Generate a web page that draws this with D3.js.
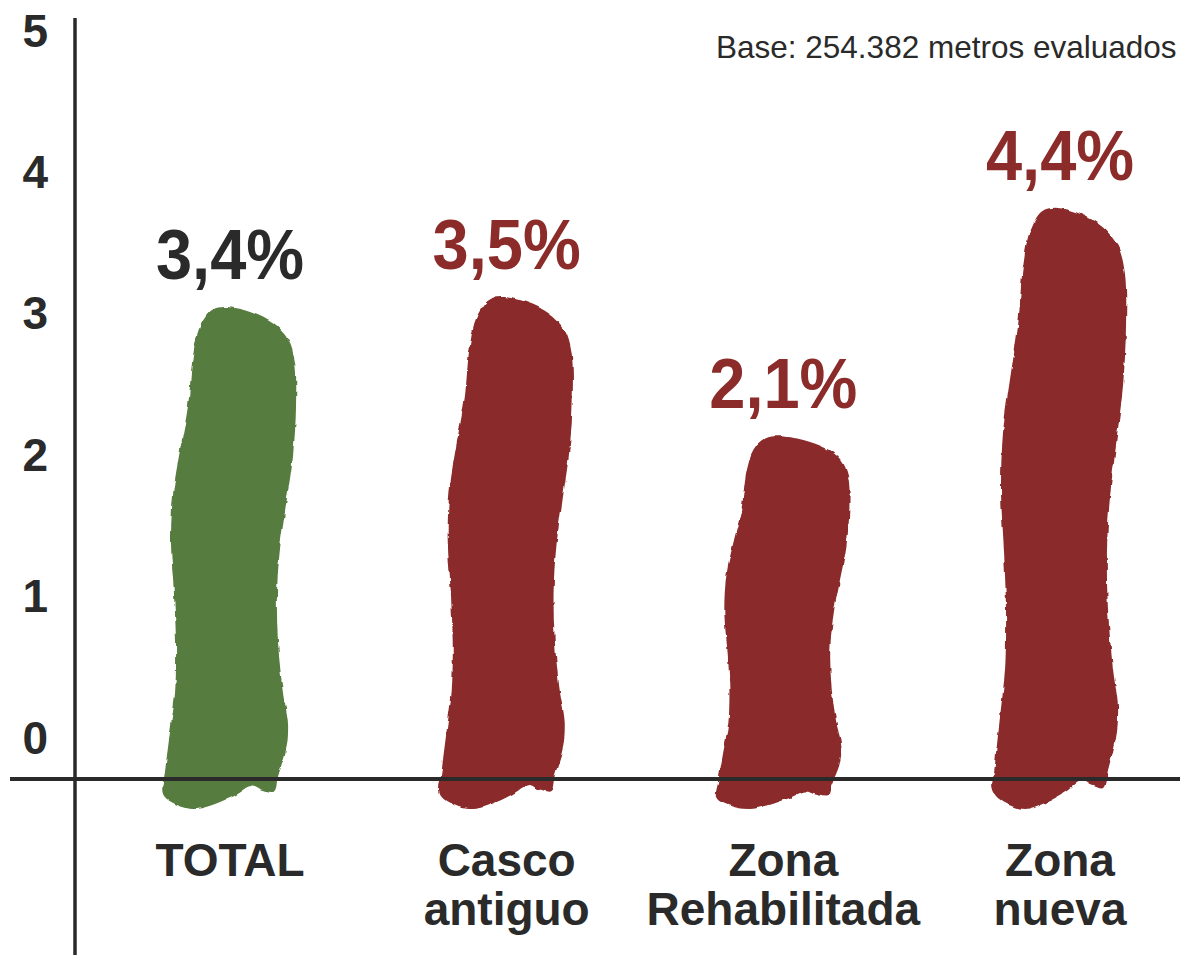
<html lang="es">
<head>
<meta charset="UTF-8">
<title>Base: 254.382 metros evaluados</title>
<style>
  body { margin: 0; background: #fff; }
  svg text { font-family: "Liberation Sans", Arial, Helvetica, sans-serif; }
</style>
</head>
<body>
<script src="https://cdn.jsdelivr.net/npm/d3@7"></script>
<script>
  // data
  let categories = ["TOTAL", "Casco antiguo", "Zona Rehabilitada", "Zona nueva"]
  let labelLines = [["TOTAL"], ["Casco", "antiguo"], ["Zona", "Rehabilitada"], ["Zona", "nueva"]]
  let values = [3.4, 3.5, 2.1, 4.4]
  let valueLabels = ["3,4%", "3,5%", "2,1%", "4,4%"]
  let yTicks = [0, 1, 2, 3, 4, 5]
  let note = "Base: 254.382 metros evaluados"

  let width = 1180
  let height = 955
  let baseY = 779
  let ink = "#2a2a2a"
  let green = "#567b3f"
  let red = "#8b2b2a"

  let svg = d3.select("body").append("svg")
              .attr("width", width)
              .attr("height", height)

  // rough brush edge
  let defs = svg.append("defs")
  let f = defs.append("filter").attr("id", "rough")
              .attr("x", "-10%").attr("y", "-10%").attr("width", "120%").attr("height", "120%")
  f.append("feTurbulence").attr("type", "fractalNoise").attr("baseFrequency", 0.09)
   .attr("numOctaves", 2).attr("seed", 4).attr("result", "n")
  f.append("feDisplacementMap").attr("in", "SourceGraphic").attr("in2", "n")
   .attr("scale", 4).attr("xChannelSelector", "R").attr("yChannelSelector", "G")

  let yAxisScale = d3.scaleLinear().domain([0, 5]).range([737, 30])
  let yBar = d3.scaleLinear().domain([0, 5]).range([645, 148])
  let x = d3.scalePoint().domain(categories).range([230, 1060])

  // brush stroke outline, u across the width, t from top (0) to bottom (1)
  let stroke = [
    [-0.133, 0.006], [-0.037, 0], [0.148, 0.01], [0.319, 0.033], [0.43, 0.065],
    [0.48, 0.108], [0.489, 0.197], [0.467, 0.295], [0.415, 0.394], [0.37, 0.482],
    [0.348, 0.571], [0.356, 0.669], [0.393, 0.768], [0.43, 0.831], [0.415, 0.882],
    [0.356, 0.935], [0.326, 0.965], [0.237, 0.961], [0.163, 0.953], [0.037, 0.972],
    [-0.111, 0.99], [-0.259, 1.0], [-0.407, 0.99], [-0.496, 0.97], [-0.481, 0.925],
    [-0.444, 0.846], [-0.407, 0.768], [-0.4, 0.669], [-0.415, 0.571], [-0.437, 0.472],
    [-0.422, 0.374], [-0.37, 0.285], [-0.311, 0.197], [-0.274, 0.098], [-0.222, 0.039]
  ]
  let barW = 135
  let overhang = 30

  let line = d3.line().curve(d3.curveCatmullRomClosed.alpha(0.5))

  let data = categories.map(function(c, i) {
    return { cat: c, value: values[i], label: valueLabels[i], lines: labelLines[i], i: i }
  })

  svg.selectAll("path.bar")
     .data(data)
     .enter()
     .append("path")
     .attr("class", "bar")
     .attr("filter", "url(#rough)")
     .attr("fill", function(d) { return d.i === 0 ? green : red })
     .attr("d", function(d) {
        let cx = x(d.cat)
        let top = yBar(d.value)
        let bottom = baseY + overhang
        return line(stroke.map(function(p) {
          return [cx + p[0] * barW, top + p[1] * (bottom - top)]
        }))
     })

  // axes lines
  svg.append("line").attr("x1", 75).attr("x2", 75).attr("y1", 18).attr("y2", height)
     .attr("stroke", ink).attr("stroke-width", 3.5)
  svg.append("line").attr("x1", 10).attr("x2", width).attr("y1", baseY).attr("y2", baseY)
     .attr("stroke", ink).attr("stroke-width", 4)

  // y tick labels
  svg.selectAll("text.tick")
     .data(yTicks)
     .enter()
     .append("text")
     .attr("class", "tick")
     .attr("x", 48)
     .attr("y", function(d) { return yAxisScale(d) })
     .attr("dy", "0.36em")
     .attr("text-anchor", "end")
     .attr("font-size", 46)
     .attr("font-weight", "bold")
     .attr("fill", ink)
     .text(function(d) { return d })

  // value labels
  svg.selectAll("text.val")
     .data(data)
     .enter()
     .append("text")
     .attr("class", "val")
     .attr("transform", function(d) {
        return "translate(" + x(d.cat) + "," + (yBar(d.value) - 28) + ") scale(1,1.08)"
     })
     .attr("text-anchor", "middle")
     .attr("font-size", 65)
     .attr("font-weight", "bold")
     .attr("fill", function(d) { return d.i === 0 ? ink : red })
     .text(function(d) { return d.label })

  // category labels
  let cats = svg.selectAll("text.cat")
     .data(data)
     .enter()
     .append("text")
     .attr("class", "cat")
     .attr("text-anchor", "middle")
     .attr("font-size", 46)
     .attr("font-weight", "bold")
     .attr("fill", ink)

  cats.selectAll("tspan")
      .data(function(d) { return d.lines.map(function(t) { return { t: t, cx: x(d.cat) } }) })
      .enter()
      .append("tspan")
      .attr("x", function(d) { return d.cx })
      .attr("y", function(d, j) { return 876 + j * 49 })
      .text(function(d) { return d.t })

  svg.append("text")
     .attr("x", 716)
     .attr("y", 58)
     .attr("font-size", 31.5)
     .attr("fill", ink)
     .text(note)
</script>
</body>
</html>
